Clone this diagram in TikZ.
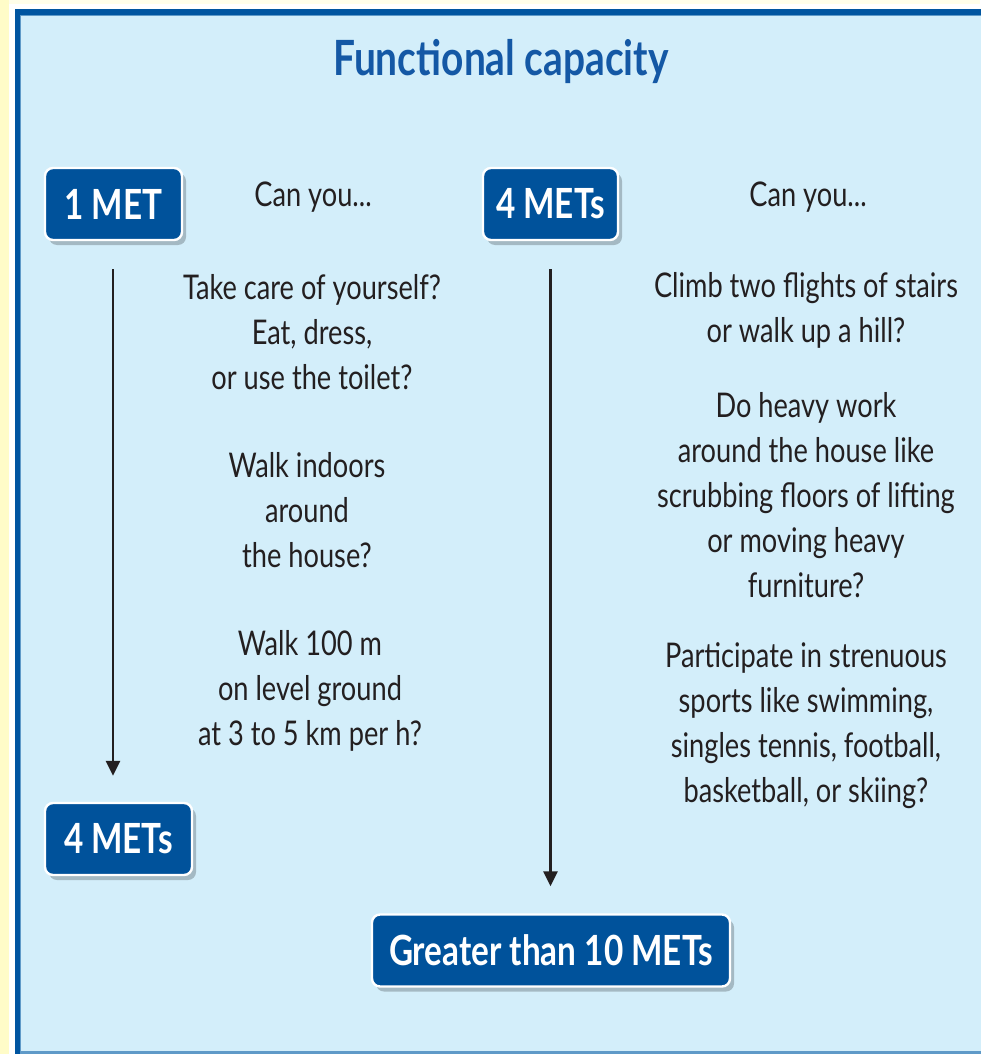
\documentclass[tikz,border=0pt]{standalone}
\usepackage{fontspec}
\setmainfont{Lato}[FakeStretch=0.8]
\usetikzlibrary{arrows.meta,positioning,shadows}
\definecolor{panelblue}{HTML}{D3EEFA}
\definecolor{frameblue}{HTML}{0055A0}
\definecolor{boxblue}{HTML}{00529B}
\definecolor{titleblue}{HTML}{1458A5}
\definecolor{pageyellow}{HTML}{FFFCC8}
\definecolor{inkdark}{HTML}{231F20}
\tikzset{
  metbox/.style={draw=white, line width=1.2pt, fill=boxblue, rounded corners=4pt,
    text=white, font=\fontsize{20.8}{24}\selectfont\bfseries,
    minimum height=36pt, inner sep=2pt,
    drop shadow={shadow xshift=2pt, shadow yshift=-2.5pt, fill=black, opacity=0.22}},
  asktext/.style={align=center, text=inkdark, font=\fontsize{17}{22.5}\selectfont,
    inner sep=0pt},
  metarrow/.style={-{Triangle[length=7.5pt, width=7pt]}, line width=1.3pt, inkdark}
}

\begin{document}
\begin{tikzpicture}[x=0.5pt, y=-0.5pt]
  \useasboundingbox (0,0) rectangle (980,1054);
  % page edge and panel frame
  \fill[white!60!pageyellow] (0,0) rectangle (980,1054);
  \fill[pageyellow] (0,0) rectangle (9,1054);
  \fill[white] (9,4) rectangle (980,1054);
  \fill[frameblue] (15,9) rectangle (990,1060);
  \fill[frameblue!55!panelblue] (20,15) rectangle (990,1054);
  \fill[panelblue] (21,16) rectangle (990,1051);

  \node[font=\fontsize{24.3}{26}\selectfont\bfseries, text=titleblue] (title) at (501,62) {Functional capacity};

  % left column
  \node[metbox, minimum width=68.5pt] (one) at (113.5,204) {1 MET};
  \node[asktext] (canleft) at (313,197) {Can you...};
  \node[asktext] (selfcare) at (312,332) {Take care of yourself?\\Eat, dress,\\or use the toilet?};
  \node[asktext] (indoors) at (307,510) {Walk indoors\\around\\the house?};
  \node[asktext] (level) at (310,691) {Walk 100 m\\on level ground\\at 3 to 5 km per h?};
  \node[metbox, minimum width=73.5pt] (fourlow) at (118.5,839) {4 METs};

  % right column
  \node[metbox, minimum width=67.5pt] (fourtop) at (550.5,204) {4 METs};
  \node[asktext] (canright) at (808,197) {Can you...};
  \node[asktext] (stairs) at (806,310) {Climb two flights of stairs\\or walk up a hill?};
  \node[asktext] (housework) at (806,495) {Do heavy work\\around the house like\\scrubbing floors of lifting\\or moving heavy\\furniture?};
  \node[asktext] (sports) at (806,726) {Participate in strenuous\\sports like swimming,\\singles tennis, football,\\basketball, or skiing?};
  \node[metbox, minimum width=179pt] (greater) at (551,950.5) {Greater than 10 METs};

  \draw[metarrow, shorten <=14pt, shorten >=13pt] ([xshift=-0.25pt]one.south) -- ([xshift=-0.25pt]one.south |- fourlow.north);
  \draw[metarrow, shorten <=14pt, shorten >=13.5pt] (fourtop.south) -- (fourtop.south |- greater.north);
\end{tikzpicture}
\end{document}
